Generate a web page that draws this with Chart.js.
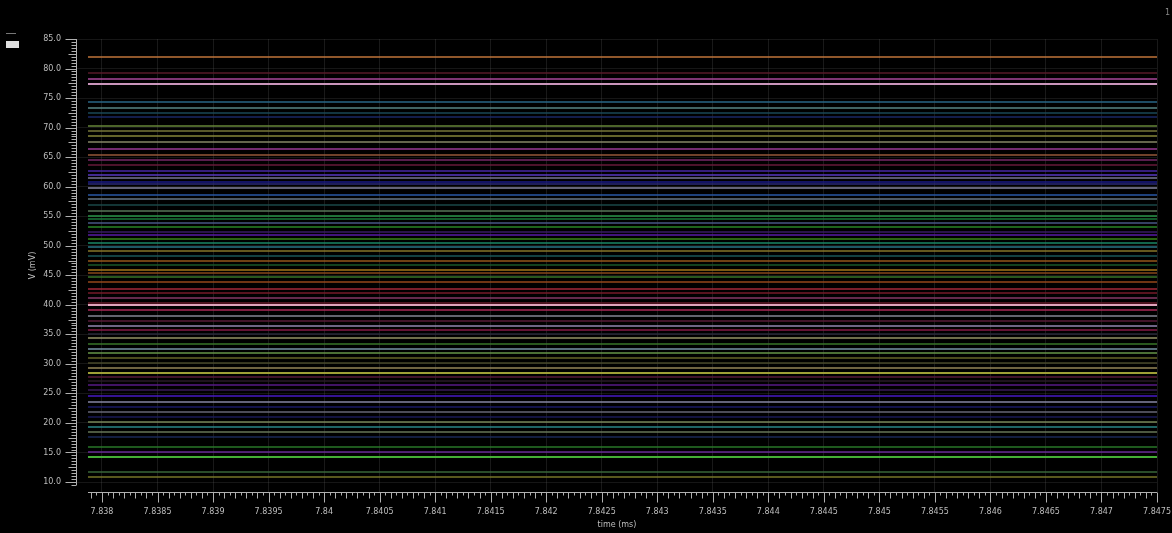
<!DOCTYPE html>
<html>
<head>
<meta charset="utf-8">
<script src="https://cdn.jsdelivr.net/npm/chart.js@4/dist/chart.umd.min.js"></script>
<style>
  html, body { margin: 0; padding: 0; background: #000; }
  #wrap { width: 1172px; height: 533px; position: relative; background: #000; }
</style>
</head>
<body>
<div id="wrap"><canvas id="c" width="1172" height="533"></canvas></div>
<script>
// ---- data ----
const timeRange = [7.837874, 7.8475];           // ms, start/end of every trace
const xTickLabels = ["7.838","7.8385","7.839","7.8395","7.84","7.8405","7.841","7.8415","7.842","7.8425","7.843","7.8435","7.844","7.8445","7.845","7.8455","7.846","7.8465","7.847","7.8475"];
const yTickLabels = ["10.0","15.0","20.0","25.0","30.0","35.0","40.0","45.0","50.0","55.0","60.0","65.0","70.0","75.0","80.0","85.0"];
const levels = [81.95, 79.24, 78.23, 77.38, 74.33, 73.32, 72.47, 71.8, 70.27, 69.43,
  68.58, 67.56, 66.38, 65.36, 64.52, 63.67, 62.65, 61.98, 61.47, 60.79,
  60.45, 59.78, 58.59, 57.91, 56.9, 55.88, 55.04, 54.53, 53.85, 53.17,
  52.33, 51.82, 51.14, 50.46, 49.79, 49.11, 48.26, 47.42, 46.74, 45.89,
  45.39, 44.71, 43.86, 42.68, 42.0, 41.15, 40.31, 39.97, 39.12, 38.11,
  37.26, 36.41, 35.74, 35.06, 34.38, 33.37, 32.52, 31.84, 31.0, 30.15,
  29.3, 28.46, 27.78, 27.1, 26.43, 25.58, 24.56, 23.55, 22.7, 21.85,
  21.01, 20.16, 19.31, 18.47, 17.62, 15.93, 15.08, 14.24, 11.7, 10.85];
const traceColors = ["#c8783c","#5a1a2a","#b04aa0","#d8a0c8","#2a6a8a","#5a8a8a","#1a4a5a","#1a2a6a","#6a8a3a","#7a7a3a",
  "#8a8a3a","#8a8a6a","#a03a9a","#9a5a3a","#7a2a6a","#6a1a3a","#4a2aaa","#5a3ac8","#7a7a9a","#1a1a8a",
  "#2a2a7a","#8a8aa8","#2a5aaa","#6a7a8a","#1a4a4a","#5a7a5a","#2a9a4a","#1a7a3a","#4a5a8a","#2a8a2a",
  "#3a1a6a","#5a1aaa","#3a8a1a","#1a8a6a","#2a7a8a","#8a7a2a","#1a5a5a","#9a5a1a","#1a5a2a","#aa7a1a",
  "#8a4a1a","#3a7a2a","#9a4a1a","#aa2a3a","#7a1a2a","#8a3a6a","#6a1a2a","#f0b0c8","#b02a5a","#8a8a9a",
  "#5a1a3a","#9a8aba","#8a1a4a","#2a2a3a","#9a9a6a","#3a7a2a","#7a9aaa","#6a9a4a","#6a6a2a","#4a4a2a",
  "#9a8a5a","#aaaa3a","#5a1a3a","#2a1a2a","#5a1a8a","#3a1a5a","#4a1acc","#8a8aaa","#1a1a6a","#6a6a7a",
  "#1a1a5a","#7a8a5a","#2a8a8a","#6a7a5a","#1a2a5a","#2a7a2a","#6a2a9a","#4aba3a","#3a6a3a","#7a7a2a"];
const brightTraces = [39.97, 28.46, 14.24, 77.38];

// ---- build chart ----
const datasets = levels.map((v, i) => ({
  data: [{x: timeRange[0], y: v}, {x: timeRange[1], y: v}],
  borderColor: traceColors[i] + (brightTraces.includes(v) ? 'ee' : 'b8'),
  borderWidth: 2,
  pointRadius: 0,
  fill: false
}));

const xMajors = xTickLabels.map(Number);
const yMajors = yTickLabels.map(Number);
const textCol = '#bdbdbd';
const tickFont = {family: 'DejaVu Sans', size: 8};

const bg = {
  id: 'bg',
  beforeDraw(chart) {
    const ctx = chart.ctx;
    ctx.save();
    ctx.fillStyle = '#000';
    ctx.fillRect(0, 0, chart.width, chart.height);
    ctx.restore();
  }
};

const deco = {
  id: 'deco',
  afterDraw(chart) {
    const ctx = chart.ctx, xs = chart.scales.x, ys = chart.scales.y;
    ctx.save();
    ctx.strokeStyle = '#b0b0b0';
    ctx.lineWidth = 1;
    const axY = 492.5, axX = 76.5;
    const x0 = xs.getPixelForValue(timeRange[0]), x1 = xs.getPixelForValue(timeRange[1]);
    ctx.beginPath();
    ctx.moveTo(x0, axY); ctx.lineTo(x1, axY);
    const yTop = ys.getPixelForValue(85), yBot = ys.getPixelForValue(9.5);
    ctx.moveTo(axX, yTop); ctx.lineTo(axX, yBot);
    ctx.stroke();
    ctx.beginPath();
    const start = xMajors[0];
    for (let k = -2; k <= 190; k++) {
      const v = start + k * 0.00005;
      const px = Math.round(xs.getPixelForValue(v)) + 0.5;
      if (px < x0 - 0.5 || px > x1 + 0.5) continue;
      const len = (k % 10 === 0) ? 10 : (k % 2 === 0 ? 6 : 3);
      ctx.moveTo(px, axY); ctx.lineTo(px, axY + len);
    }
    for (let k = 19; k <= 170; k++) {
      const v = k * 0.5;
      const py = Math.round(ys.getPixelForValue(v)) + 0.5;
      const len = (k % 10 === 0) ? 11 : (k % 5 === 0 ? 8 : 5);
      ctx.moveTo(axX, py); ctx.lineTo(axX - len, py);
    }
    ctx.stroke();
    ctx.fillStyle = '#e0e0e0';
    ctx.fillRect(6, 41, 13, 7);
    ctx.fillStyle = '#777';
    ctx.fillRect(6, 33, 10, 1);
    ctx.fillStyle = '#888';
    ctx.font = '8px DejaVu Sans';
    ctx.textAlign = 'left';
    ctx.textBaseline = 'middle';
    ctx.fillText('1', 1165, 13);
    ctx.restore();
  }
};

new Chart(document.getElementById('c'), {
  type: 'line',
  data: { datasets },
  options: {
    responsive: false,
    animation: false,
    events: [],
    layout: { padding: { top: 39, right: 15, left: 0, bottom: 0 } },
    plugins: { legend: { display: false }, tooltip: { enabled: false } },
    scales: {
      x: {
        type: 'linear',
        min: 7.837775,
        max: 7.8475,
        afterBuildTicks: s => { s.ticks = xMajors.map(v => ({value: v})); },
        afterFit: s => { s.height = 41; s.paddingLeft = 0; s.paddingRight = 0; },
        ticks: {
          autoSkip: false, maxRotation: 0, minRotation: 0,
          padding: 15, color: textCol, font: tickFont,
          callback: (v, i) => xTickLabels[i]
        },
        grid: { drawTicks: false, color: 'rgba(100,100,100,0.25)', borderDash: [1, 3], lineWidth: 1 },
        border: { display: false },
        title: { display: true, text: 'time (ms)', color: textCol, font: {family: 'DejaVu Sans', size: 8}, padding: {top: 0, bottom: 3} }
      },
      y: {
        type: 'linear',
        min: 8.31,
        max: 85,
        afterBuildTicks: s => { s.ticks = yMajors.map(v => ({value: v})); },
        afterFit: s => { s.width = 77; s.paddingTop = 0; s.paddingBottom = 0; },
        ticks: {
          autoSkip: false, padding: 16, color: textCol, font: tickFont,
          callback: (v, i) => yTickLabels[i]
        },
        grid: { drawTicks: false, color: 'rgba(100,100,100,0.22)', borderDash: [1, 3], lineWidth: 1 },
        border: { display: false },
        title: { display: true, text: 'V (mV)', color: textCol, font: {family: 'DejaVu Sans', size: 8}, padding: {top: 28, bottom: 0} }
      }
    }
  },
  plugins: [bg, deco]
});
</script>
</body>
</html>
